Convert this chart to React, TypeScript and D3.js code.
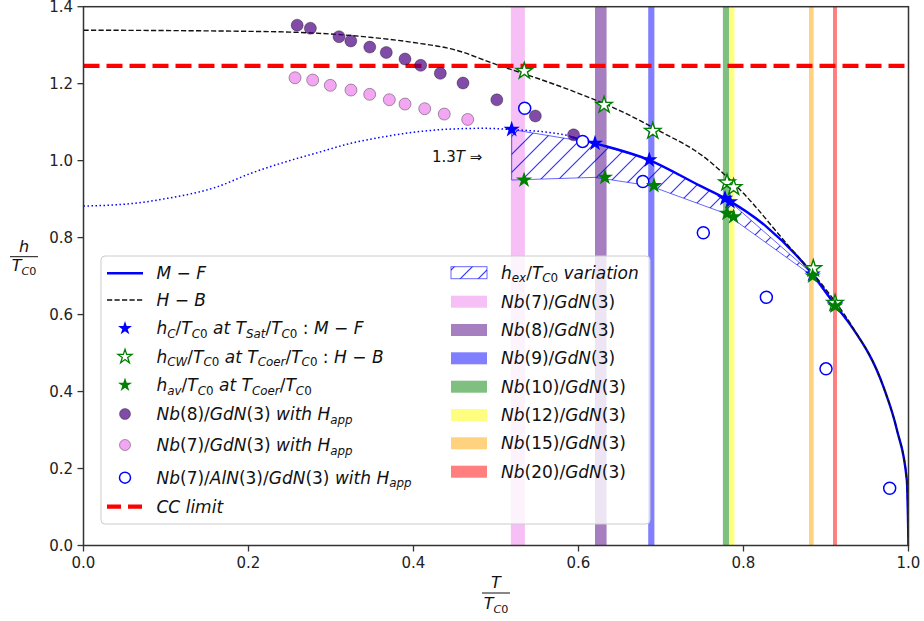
import React from 'react'
import * as d3 from 'd3'

// ---- data ----
const xTicks = [0, 0.2, 0.4, 0.6, 0.8, 1.0]
const yTicks = [0, 0.2, 0.4, 0.6, 0.8, 1.0, 1.2, 1.4]

// H-B curve (black dashed)
const hbX = [0, 0.1, 0.2, 0.25, 0.3, 0.35, 0.4, 0.45, 0.5, 0.55, 0.6, 0.65, 0.7, 0.75, 0.8, 0.85, 0.9, 0.93, 0.97, 0.986, 0.998, 1.0]
const hbY = [1.339, 1.338, 1.336, 1.334, 1.329, 1.32, 1.307, 1.288, 1.25, 1.214, 1.175, 1.13, 1.075, 1.013, 0.915, 0.79, 0.665, 0.575, 0.41, 0.3, 0.17, 0.0]

// M-F curve, dotted part and solid part
const mfDotX = [0, 0.061, 0.1016, 0.162, 0.2027, 0.243, 0.2834, 0.3239, 0.3642, 0.4046, 0.445, 0.4855, 0.518, 0.5857, 0.598]
const mfDotY = [0.882, 0.889, 0.902, 0.932, 0.967, 0.9956, 1.0205, 1.045, 1.062, 1.075, 1.082, 1.084, 1.081, 1.066, 1.058]
const mfX = [0.59, 0.62, 0.6858, 0.747, 0.7776, 0.828, 0.8838, 0.911, 0.93, 0.97, 0.986, 0.998, 1.0]
const mfY = [1.062, 1.045, 1.0016, 0.935, 0.902, 0.828, 0.705, 0.625, 0.572, 0.41, 0.3, 0.17, 0.0]

// stars
const hcX = [0.519, 0.62, 0.6858, 0.7776, 0.7836, 0.8838, 0.911]
const hcY = [1.081, 1.045, 1.0016, 0.902, 0.893, 0.705, 0.625]
const hcwX = [0.5343, 0.631, 0.69, 0.78, 0.788, 0.8846, 0.911]
const hcwY = [1.2328, 1.1445, 1.077, 0.9427, 0.9307, 0.72, 0.63]
const havX = [0.534, 0.632, 0.6915, 0.78, 0.788, 0.8838, 0.911]
const havY = [0.9496, 0.9566, 0.935, 0.863, 0.854, 0.7, 0.622]

// measured points
const nb8X = [0.259, 0.275, 0.3097, 0.324, 0.347, 0.367, 0.3897, 0.4087, 0.4325, 0.46, 0.501, 0.5477, 0.594]
const nb8Y = [1.352, 1.344, 1.322, 1.311, 1.295, 1.281, 1.264, 1.2476, 1.2268, 1.2016, 1.158, 1.116, 1.067]
const nb7X = [0.2564, 0.2778, 0.2992, 0.3242, 0.3469, 0.3707, 0.3897, 0.4136, 0.4373, 0.4657]
const nb7Y = [1.2154, 1.2094, 1.1956, 1.1834, 1.1723, 1.1583, 1.147, 1.135, 1.121, 1.107]
const alnX = [0.5348, 0.605, 0.678, 0.7513, 0.8277, 0.9, 0.9772]
const alnY = [1.136, 1.05, 0.946, 0.8128, 0.645, 0.459, 0.1486]

const ccLimit = 1.246

// vertical bands
const bandLabels = ['Nb(7)/GdN(3)', 'Nb(8)/GdN(3)', 'Nb(9)/GdN(3)', 'Nb(10)/GdN(3)', 'Nb(12)/GdN(3)', 'Nb(15)/GdN(3)', 'Nb(20)/GdN(3)']
const bandStart = [0.518, 0.62, 0.6845, 0.775, 0.7824, 0.8794, 0.9085]
const bandEnd = [0.535, 0.634, 0.692, 0.7824, 0.789, 0.885, 0.9133]
const bandColors = ['violet', 'indigo', 'blue', 'green', 'yellow', 'orange', 'red']

const FONT = 'DejaVu Sans'

type Run = { t: string, it: boolean, sub: boolean }

// tiny mathtext-ish parser: letters italic, "_x" or "_{..}" subscript
function parse(s: string): Run[] {
  const runs: Run[] = []
  const push = (ch: string, sub: boolean) => {
    const it = /[A-Za-z]/.test(ch)
    const last = runs[runs.length - 1]
    if (last && last.it === it && last.sub === sub) last.t += ch
    else runs.push({ t: ch, it, sub })
  }
  let i = 0
  while (i < s.length) {
    if (s[i] === '_') {
      i++
      if (s[i] === '{') {
        const j = s.indexOf('}', i)
        for (const c of s.slice(i + 1, j)) push(c, true)
        i = j + 1
      } else {
        push(s[i], true)
        i++
      }
    } else {
      push(s[i], false)
      i++
    }
  }
  return runs
}

function MathText({ x, y, src, size = 15, anchor = 'start' }: any) {
  const runs = parse(src)
  const shift = size * 0.22
  return (
    <text x={x} y={y} fontSize={size} fontFamily={FONT} textAnchor={anchor} fill="#111" style={{ whiteSpace: 'pre' }}>
      {runs.map((r, k) => {
        const prevSub = k > 0 && runs[k - 1].sub
        let dy = 0
        if (r.sub && !prevSub) dy = shift
        if (!r.sub && prevSub) dy = -shift
        return (
          <tspan key={k} dy={dy} fontStyle={r.it ? 'italic' : 'normal'} fontSize={r.sub ? size * 0.7 : size}>{r.t}</tspan>
        )
      })}
    </text>
  )
}

const W = 924
const H = 621
const left = 83.5
const right = 908.5
const top = 6.7
const bottom = 545.5

export default function App() {
  const x = d3.scaleLinear().domain([0, 1]).range([left, right])
  const y = d3.scaleLinear().domain([0, 1.4]).range([bottom, top])

  const zip = (xs: number[], ys: number[]) => xs.map((v, i) => [v, ys[i]] as [number, number])
  const line = d3.line<[number, number]>().x(d => x(d[0])).y(d => y(d[1])).curve(d3.curveMonotoneX)
  const straight = d3.line<[number, number]>().x(d => x(d[0])).y(d => y(d[1]))

  const hatchArea = d3.area<number>()
    .x((d, i) => x(hcX[i]))
    .y0((d, i) => y(havY[i]))
    .y1((d, i) => y(hcY[i]))

  const star = (r: number) => d3.symbol().type(d3.symbolStar).size((r * r) / 0.8908130915292852)()

  const starBig = star(8.6)
  const starSmall = star(7.4)

  // legend layout
  const legL = [273.3, 300, 328.3, 356.7, 385, 414, 445, 477.7, 506.7]
  const legR = [272.7, 301.7, 330, 358.3, 386.7, 415, 443.3, 471.7]
  const hx = 125
  const tx = 156.5
  const rx = 451
  const rtx = 501
  const fs = 17

  const leftLabels = [
    'M − F',
    'H − B',
    'h_C/T_{C0} at T_{Sat}/T_{C0} : M − F',
    'h_{CW}/T_{C0} at T_{Coer}/T_{C0} : H − B',
    'h_{av}/T_{C0} at T_{Coer}/T_{C0}',
    'Nb(8)/GdN(3) with H_{app}',
    'Nb(7)/GdN(3) with H_{app}',
    'Nb(7)/AlN(3)/GdN(3) with H_{app}',
    'CC limit',
  ]

  const hatchPath = 'M0,18 L18,0 M-4.5,4.5 L4.5,-4.5 M13.5,22.5 L22.5,13.5'

  return (
    <svg width={W} height={H} style={{ position: 'absolute', left: 0, top: 0, background: '#fff' }}>
      <defs>
        <pattern id="hatch" patternUnits="userSpaceOnUse" width={18} height={18}>
          <path d={hatchPath} stroke="#0000ff" strokeWidth={1.2} strokeOpacity={0.8} />
        </pattern>
        <pattern id="hatchLeg" patternUnits="userSpaceOnUse" width={18} height={18} x={rx}>
          <path d={hatchPath} stroke="#0000ff" strokeWidth={1.2} strokeOpacity={0.8} />
        </pattern>
        <clipPath id="plot">
          <rect x={left} y={top} width={right - left} height={bottom - top} />
        </clipPath>
      </defs>

      <g clipPath="url(#plot)">
        {/* vertical bands */}
        {bandStart.map((s, i) => (
          <rect key={i} x={x(s)} y={top} width={x(bandEnd[i]) - x(s)} height={bottom - top} fill={bandColors[i]} fillOpacity={0.5} />
        ))}

        {/* hatched variation */}
        <path d={hatchArea(hcX) || ''} fill="url(#hatch)" stroke="#0000ff" strokeOpacity={0.6} strokeWidth={1} />

        {/* curves */}
        <path d={line(zip(mfDotX, mfDotY)) || ''} fill="none" stroke="blue" strokeWidth={1.5} strokeDasharray="1.5,2.5" />
        <path d={line(zip(mfX, mfY)) || ''} fill="none" stroke="blue" strokeWidth={2.4} />
        <path d={line(zip(hbX, hbY)) || ''} fill="none" stroke="#111" strokeWidth={1.4} strokeDasharray="5.2,2.3" />

        {/* CC limit */}
        <path d={straight([[0, ccLimit], [1, ccLimit]]) || ''} fill="none" stroke="red" strokeWidth={4.2} strokeDasharray="16,7" />

        {/* measured points */}
        {nb8X.map((v, i) => (
          <circle key={'p8' + i} cx={x(v)} cy={y(nb8Y[i])} r={6} fill="indigo" fillOpacity={0.7} stroke="#000" strokeOpacity={0.35} strokeWidth={1} />
        ))}
        {nb7X.map((v, i) => (
          <circle key={'p7' + i} cx={x(v)} cy={y(nb7Y[i])} r={6} fill="violet" fillOpacity={0.7} stroke="#000" strokeOpacity={0.35} strokeWidth={1} />
        ))}
        {alnX.map((v, i) => (
          <circle key={'al' + i} cx={x(v)} cy={y(alnY[i])} r={6} fill="#fff" stroke="blue" strokeWidth={1.5} />
        ))}

        {/* stars */}
        {hcX.map((v, i) => (
          <path key={'hc' + i} d={starBig || ''} transform={`translate(${x(v)},${y(hcY[i])})`} fill="blue" />
        ))}
        {hcwX.map((v, i) => (
          <path key={'hw' + i} d={starBig || ''} transform={`translate(${x(v)},${y(hcwY[i])})`} fill="#fff" stroke="green" strokeWidth={1.4} />
        ))}
        {havX.map((v, i) => (
          <path key={'hv' + i} d={starBig || ''} transform={`translate(${x(v)},${y(havY[i])})`} fill="green" />
        ))}
      </g>

      {/* annotation */}
      <text x={432} y={162} fontSize={15} fontFamily={FONT} fill="#111" style={{ whiteSpace: 'pre' }}>
        <tspan>1.3</tspan><tspan fontStyle="italic">T</tspan><tspan> ⇒</tspan>
      </text>

      {/* frame */}
      <rect x={left} y={top} width={right - left} height={bottom - top} fill="none" stroke="#333" strokeWidth={1.5} />

      {/* ticks */}
      {xTicks.map(t => (
        <g key={'xt' + t}>
          <line x1={x(t)} x2={x(t)} y1={bottom} y2={bottom + 6} stroke="#333" strokeWidth={1.3} />
          <text x={x(t)} y={568} fontSize={15} fontFamily={FONT} textAnchor="middle" fill="#222">{t.toFixed(1)}</text>
        </g>
      ))}
      {yTicks.map(t => (
        <g key={'yt' + t}>
          <line x1={left - 6} x2={left} y1={y(t)} y2={y(t)} stroke="#333" strokeWidth={1.3} />
          <text x={73} y={y(t) + 5.5} fontSize={15} fontFamily={FONT} textAnchor="end" fill="#222">{t.toFixed(1)}</text>
        </g>
      ))}

      {/* axis labels */}
      <text x={24} y={252} fontSize={16} fontFamily={FONT} fontStyle="italic" textAnchor="middle" fill="#111">h</text>
      <line x1={10} x2={38} y1={256.7} y2={256.7} stroke="#111" strokeWidth={1} />
      <MathText x={24} y={271} src="T_{C0}" size={16} anchor="middle" />

      <text x={496} y={588} fontSize={16} fontFamily={FONT} fontStyle="italic" textAnchor="middle" fill="#111">T</text>
      <line x1={482} x2={510} y1={593} y2={593} stroke="#111" strokeWidth={1} />
      <MathText x={496} y={609} src="T_{C0}" size={16} anchor="middle" />

      {/* legend */}
      <rect x={101} y={256} width={549} height={268} rx={4} fill="#fff" fillOpacity={0.8} stroke="#ccc" strokeWidth={1} />
      <line x1={107} x2={143} y1={legL[0]} y2={legL[0]} stroke="blue" strokeWidth={2.4} />
      <line x1={107} x2={143} y1={legL[1]} y2={legL[1]} stroke="#111" strokeWidth={1.4} strokeDasharray="5.2,2.3" />
      <path d={starSmall || ''} transform={`translate(${hx},${legL[2]})`} fill="blue" />
      <path d={starSmall || ''} transform={`translate(${hx},${legL[3]})`} fill="#fff" stroke="green" strokeWidth={1.3} />
      <path d={starSmall || ''} transform={`translate(${hx},${legL[4]})`} fill="green" />
      <circle cx={hx} cy={legL[5]} r={5.5} fill="indigo" fillOpacity={0.7} stroke="#000" strokeOpacity={0.35} />
      <circle cx={hx} cy={legL[6]} r={5.5} fill="violet" fillOpacity={0.7} stroke="#000" strokeOpacity={0.35} />
      <circle cx={hx} cy={legL[7]} r={5.5} fill="#fff" stroke="blue" strokeWidth={1.5} />
      <line x1={107} x2={143} y1={legL[8]} y2={legL[8]} stroke="red" strokeWidth={4.2} strokeDasharray="14,7" />
      {leftLabels.map((s, i) => (
        <MathText key={'ll' + i} x={tx} y={legL[i] + 6} src={s} size={fs} />
      ))}

      <rect x={rx} y={legR[0] - 6} width={36} height={12} fill="url(#hatchLeg)" stroke="#0000ff" strokeOpacity={0.6} strokeWidth={1} />
      <MathText x={rtx} y={legR[0] + 6} src="h_{ex}/T_{C0} variation" size={fs} />
      {bandLabels.map((s, i) => (
        <g key={'bl' + i}>
          <rect x={rx} y={legR[i + 1] - 6} width={36} height={12} fill={bandColors[i]} fillOpacity={0.5} />
          <MathText x={rtx} y={legR[i + 1] + 6} src={s} size={fs} />
        </g>
      ))}
    </svg>
  )
}
